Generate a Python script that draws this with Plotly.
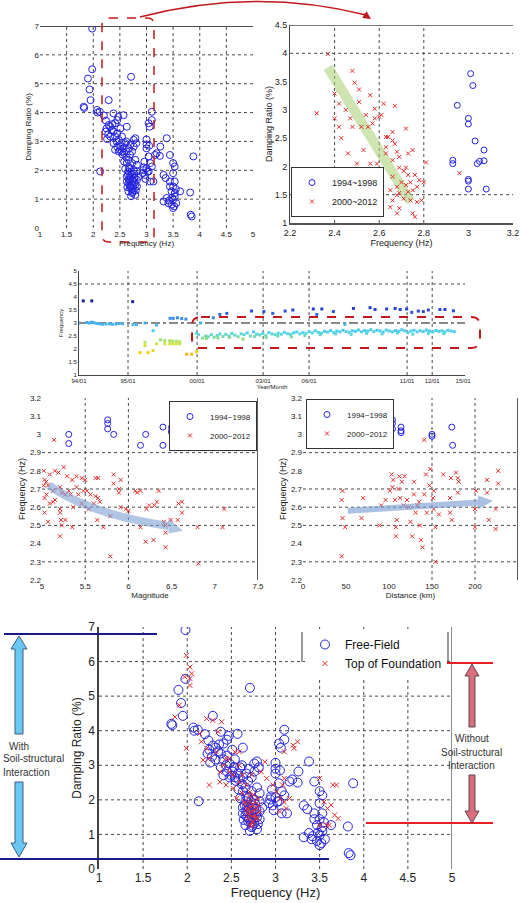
import plotly.graph_objects as go

W, H = 522, 903
FONT = "Liberation Sans, Arial, sans-serif"
BLUE = "rgb(35,35,225)"
RED = "rgb(225,45,45)"
DRED = "rgb(195,25,30)"

# ---------------- data ----------------
# Free-field damping ratio vs frequency (top-left panel and bottom panel)
ff_freq = [1.98, 1.98, 1.90, 1.93, 1.95, 1.82, 1.83, 2.71, 2.29, 2.07,
           2.12, 2.08, 2.13, 2.38, 2.57, 2.45, 2.41, 2.29, 2.32, 2.25,
           2.23, 2.51, 2.63, 2.38, 2.45, 2.41, 2.32, 2.26, 2.48, 2.54,
           2.60, 2.38, 2.45, 2.51, 2.57, 2.67, 2.41, 2.48, 2.54, 2.63,
           2.73, 2.76, 2.79, 2.76, 2.81, 2.69, 2.66, 2.63, 2.73, 2.79,
           2.82, 2.69, 2.76, 2.82, 2.66, 2.73, 2.63, 2.69, 2.76, 2.82,
           2.66, 2.73, 2.79, 2.69, 2.76, 2.73, 2.79, 2.66, 2.82, 2.63,
           2.85, 2.70, 2.74, 2.68, 2.77, 2.71, 2.64, 2.80, 2.72, 2.67,
           2.78, 2.60, 2.58, 2.55, 2.62, 2.94, 2.93, 2.97, 3.04, 3.00,
           3.10, 3.07, 3.04, 3.00, 3.00, 3.10, 3.04, 3.06, 3.10, 3.07,
           3.13, 3.16, 3.19, 3.26, 3.38, 3.32, 3.36, 3.32, 3.38, 3.41,
           3.44, 3.44, 3.50, 3.53, 3.50, 3.53, 3.50, 3.47, 3.53, 3.50,
           3.47, 3.50, 3.56, 3.53, 3.63, 3.82, 3.88, 3.85, 3.83, 3.44,
           2.53, 2.35, 2.62, 2.70, 2.58, 2.50, 2.44, 2.28, 2.36, 2.47,
           2.95, 2.98, 3.02, 2.96, 3.05, 3.00, 3.25, 3.55, 3.48, 3.52,
           3.42, 2.20, 2.24, 2.68, 2.72, 2.75, 2.65, 2.70, 2.78, 2.74,
           2.67]
ff_damp = [6.91, 5.50, 5.18, 4.80, 4.43, 4.20, 4.16, 5.24, 4.43, 4.09,
           4.03, 4.00, 1.96, 3.97, 3.91, 3.74, 3.63, 3.57, 3.51, 3.45,
           3.34, 3.45, 3.51, 3.34, 3.28, 3.17, 3.17, 3.08, 3.05, 3.17,
           2.94, 2.94, 2.82, 2.82, 2.76, 2.76, 2.71, 2.65, 2.65, 2.65,
           2.65, 3.05, 3.11, 2.82, 2.94, 2.54, 2.36, 2.25, 2.25, 2.36,
           2.19, 2.07, 2.01, 1.96, 1.96, 1.84, 1.78, 1.67, 1.73, 1.67,
           1.55, 1.50, 1.50, 1.38, 1.32, 1.21, 1.15, 1.27, 1.44, 1.61,
           1.78, 1.45, 1.62, 1.80, 1.88, 1.10, 1.42, 1.30, 1.95, 1.68,
           1.58, 2.05, 2.30, 2.55, 2.45, 2.01, 1.90, 1.84, 1.96, 2.07,
           2.13, 2.25, 2.48, 2.76, 3.07, 3.74, 3.63, 3.51, 4.03, 1.61,
           1.61, 2.53, 2.59, 2.82, 3.11, 1.84, 1.73, 0.92, 1.04, 0.86,
           1.61, 2.53, 2.25, 2.13, 1.90, 1.61, 1.44, 1.27, 1.21, 0.98,
           0.81, 0.69, 0.86, 1.09, 1.27, 1.23, 2.48, 0.40, 0.46, 1.44,
           2.95, 3.40, 3.00, 2.90, 2.60, 2.70, 3.00, 3.25, 3.60, 3.85,
           2.10, 1.70, 1.95, 2.30, 2.85, 2.90, 2.50, 1.35, 1.05, 0.75,
           0.95, 3.90, 3.72, 1.50, 1.35, 1.45, 1.85, 1.75, 1.75, 1.25,
           2.10]

# Top of foundation damping ratio vs frequency (bottom panel)
tf_freq = [1.99, 2.03, 2.05, 2.03, 2.03, 1.97, 1.91, 1.86, 1.99, 2.22,
           2.29, 2.39, 2.35, 2.14, 2.16, 2.22, 2.25, 2.18, 2.33, 2.37,
           2.41, 2.44, 2.48, 2.44, 2.52, 2.54, 2.59, 2.63, 2.67, 2.71,
           2.73, 2.59, 2.56, 2.65, 2.71, 2.75, 2.78, 2.67, 2.73, 2.77,
           2.69, 2.75, 2.78, 2.71, 2.80, 2.82, 2.84, 2.88, 2.90, 2.97,
           3.01, 3.05, 3.10, 3.12, 3.05, 3.08, 3.10, 3.10, 3.21, 3.25,
           3.20, 3.16, 3.50, 3.55, 3.59, 3.63, 3.65, 3.69, 3.67, 3.71,
           3.61, 3.50, 3.58, 2.52, 2.48, 2.25, 2.37, 2.59, 2.70, 2.74,
           2.76, 2.68, 2.72, 2.79, 2.66, 2.73, 2.77, 2.70, 2.75, 2.81,
           2.62, 2.69, 2.74]
tf_damp = [6.18, 5.84, 5.65, 5.51, 5.31, 5.56, 4.74, 4.40, 3.49, 4.35,
           4.30, 4.26, 3.97, 3.92, 3.68, 3.49, 3.20, 3.15, 3.39, 2.81,
           3.00, 3.20, 2.81, 2.43, 2.33, 3.39, 3.00, 2.72, 2.43, 2.23,
           2.72, 2.52, 2.04, 1.94, 1.94, 1.85, 1.75, 1.75, 1.66, 1.56,
           1.46, 1.37, 1.46, 1.27, 2.04, 1.66, 2.81, 3.10, 2.62, 2.43,
           2.23, 2.04, 1.94, 1.75, 1.66, 2.43, 2.62, 3.39, 3.49, 3.68,
           3.58, 2.04, 2.62, 1.94, 1.75, 1.85, 2.43, 2.43, 1.56, 1.46,
           1.27, 1.27, 1.27, 2.72, 3.20, 2.43, 2.52, 3.39, 1.58, 1.52,
           1.70, 1.62, 1.80, 1.48, 1.90, 1.35, 1.95, 2.10, 2.15, 1.85,
           2.20, 1.72, 1.25]

# Zoomed damping panel (top-right)
zb_freq_9498 = [3.01, 3.02, 2.95, 3.00, 3.00, 3.03, 3.07, 2.93, 2.93, 3.04,
                3.05, 3.07, 3.00, 3.00, 3.00, 3.08]
zb_damp_9498 = [3.64, 3.43, 3.08, 2.85, 2.75, 2.45, 2.29, 2.11, 2.05, 2.05,
                2.09, 2.10, 1.77, 1.74, 1.60, 1.60]
zb_freq_0012 = [2.32, 2.37, 2.40, 2.40, 2.42, 2.42, 2.45, 2.46, 2.47, 2.48,
                2.48, 2.49, 2.50, 2.51, 2.52, 2.53, 2.54, 2.55, 2.56, 2.57,
                2.58, 2.58, 2.59, 2.59, 2.60, 2.61, 2.62, 2.63, 2.63, 2.64,
                2.65, 2.65, 2.66, 2.66, 2.66, 2.66, 2.67, 2.68, 2.68, 2.68,
                2.68, 2.69, 2.69, 2.69, 2.70, 2.71, 2.71, 2.72, 2.67, 2.72,
                2.73, 2.73, 2.74, 2.74, 2.75, 2.75, 2.75, 2.76, 2.76, 2.77,
                2.77, 2.78, 2.79, 2.80, 2.81, 2.96, 2.72, 2.69, 2.73, 2.43,
                2.51, 2.56, 2.60, 2.63, 2.66]
zb_damp_0012 = [2.94, 3.99, 3.29, 2.85, 3.11, 2.70, 3.00, 2.23, 2.85, 2.70,
                3.69, 3.48, 2.05, 3.36, 2.70, 2.29, 2.91, 2.70, 2.05, 2.76,
                3.02, 2.85, 1.55, 2.05, 1.88, 2.91, 3.11, 2.23, 2.34, 2.52,
                1.28, 1.58, 1.82, 1.40, 2.46, 2.11, 2.40, 1.17, 1.64, 1.49,
                2.26, 2.17, 1.26, 1.53, 1.72, 1.92, 1.43, 1.67, 3.07, 2.67,
                1.55, 1.85, 1.40, 1.72, 1.17, 2.29, 1.58, 1.11, 1.85, 1.64,
                1.37, 1.76, 1.40, 1.72, 2.07, 1.88, 1.98, 1.98, 2.23, 2.50,
                3.14, 3.26, 2.88, 2.52, 2.61]

# Time history panel (position along the Year/Month axis, frequency)
ts_tick_pos = [0, 12.7, 30.6, 47.7, 59.6, 85.0, 91.5, 99.5]
ts_tick_text = ["94/01", "95/01", "00/01", "03/01", "06/01", "11/01", "12/01", "15/01"]
ts_pos_a = [0.0, 1.1, 2.0, 2.7, 3.3, 3.3, 3.9, 4.6, 5.3, 6.1,
            7.0, 7.9, 8.7, 9.6, 10.4, 11.3, 13.9, 14.0, 14.9, 17.1,
            20.1, 23.6, 24.4, 25.5, 26.6, 27.7]
ts_freq_a = [3.00, 3.85, 3.02, 3.00, 3.03, 3.85, 3.01, 2.98, 2.97, 2.95,
             2.96, 2.97, 2.95, 2.96, 2.98, 2.97, 3.82, 2.94, 2.94, 3.00,
             2.92, 3.18, 3.18, 3.20, 3.17, 3.15]
ts_pos_b = [15.8, 17.1, 17.1, 17.9, 19.2, 19.2, 20.1, 21.1, 22.2, 23.5,
            24.3, 25.2, 26.1, 22.2, 23.5, 24.3, 25.2, 26.1, 27.9, 29.2,
            30.5, 30.5, 31.0]
ts_freq_b = [1.86, 2.26, 2.13, 1.86, 1.94, 2.70, 2.20, 2.35, 2.32, 2.32,
             2.30, 2.30, 2.28, 2.20, 2.20, 2.20, 2.20, 2.20, 1.80, 1.80,
             1.90, 2.60, 2.55]
ts_pos_c = [31.5, 34.8, 36.5, 38.3, 44.7, 47.9, 50.2, 53.4, 55.4, 60.7,
            61.6, 62.9, 65.9, 68.9, 71.1, 75.4, 76.7, 79.7, 81.9, 83.2,
            84.9, 86.2, 87.9, 89.2, 90.5, 93.5, 94.8, 97.0]
ts_freq_c = [3.00, 3.20, 3.33, 3.37, 3.46, 3.44, 3.37, 3.46, 3.50, 3.54,
             3.33, 3.54, 3.44, 2.95, 3.56, 3.59, 3.52, 3.54, 3.56, 3.52,
             3.54, 3.41, 3.46, 3.44, 3.50, 3.52, 3.52, 3.47]
ts_pos_d = [32.0, 32.8, 33.5, 34.3, 35.0, 35.8, 36.5, 37.3, 38.0, 38.8,
            39.6, 40.4, 41.2, 42.0, 42.8, 43.6, 44.4, 45.2, 46.0, 46.8,
            47.6, 48.4, 49.2, 50.0, 50.8, 51.6, 52.4, 53.2, 54.0, 54.8,
            55.6, 56.4, 57.2, 58.0, 58.8, 59.6, 60.4, 61.2, 62.0, 62.8,
            63.6, 64.4, 65.2, 66.0, 66.8, 67.6, 68.4, 69.2, 70.0, 70.8,
            71.6, 72.4, 73.2, 74.0, 74.8, 75.6, 76.4, 77.2, 78.0, 78.8,
            79.6, 80.4, 81.2, 82.0, 82.8, 83.6, 84.4, 85.2, 86.0, 86.8,
            87.6, 88.4, 89.2, 90.0, 90.8, 91.6, 92.4, 93.2, 94.0, 94.8,
            95.6, 96.4, 97.2,
            33.0, 36.0, 39.0, 42.5, 45.5, 48.5, 51.5, 55.0, 58.5, 62.5,
            66.5, 70.5, 74.5, 78.5, 82.5, 86.5, 90.5, 94.5]
ts_freq_d = [2.42, 2.50, 2.47, 2.55, 2.45, 2.52, 2.58, 2.48, 2.56, 2.50,
             2.60, 2.53, 2.47, 2.58, 2.55, 2.62, 2.50, 2.66, 2.57, 2.54,
             2.60, 2.52, 2.63, 2.58, 2.55, 2.61, 2.57, 2.64, 2.59, 2.56,
             2.62, 2.66, 2.58, 2.63, 2.60, 2.67, 2.62, 2.70, 2.64, 2.61,
             2.68, 2.65, 2.71, 2.63, 2.69, 2.66, 2.72, 2.67, 2.64, 2.70,
             2.68, 2.73, 2.66, 2.71, 2.69, 2.74, 2.67, 2.72, 2.70, 2.65,
             2.73, 2.69, 2.66, 2.71, 2.68, 2.74, 2.70, 2.63, 2.69, 2.72,
             2.66, 2.70, 2.67, 2.73, 2.69, 2.65, 2.71, 2.68, 2.70, 2.66,
             2.72, 2.69, 2.67,
             2.40, 2.43, 2.45, 2.38, 2.48, 2.44, 2.50, 2.47, 2.52, 2.55,
             2.58, 2.56, 2.60, 2.58, 2.62, 2.57, 2.60, 2.59]

# Frequency vs magnitude
mag_9498 = [5.31, 5.31, 5.76, 5.76, 5.76, 5.83, 6.20, 6.14, 6.40, 6.40, 6.50, 6.50, 6.50]
magf_9498 = [3.00, 2.95, 3.08, 3.06, 3.03, 3.00, 3.00, 2.94, 3.04, 2.94, 3.04, 3.02, 3.01]
mag_0012 = [5.14, 5.02, 5.03, 5.05, 5.07, 5.02, 5.09, 5.13, 5.15, 5.19,
            5.21, 5.23, 5.25, 5.27, 5.29, 5.31, 5.33, 5.35, 5.09, 5.05,
            5.03, 5.13, 5.15, 5.21, 5.21, 5.22, 5.23, 5.21, 5.07, 5.03,
            5.35, 5.27, 5.40, 5.40, 5.42, 5.46, 5.46, 5.50, 5.52, 5.56,
            5.60, 5.62, 5.65, 5.62, 5.65, 5.67, 5.54, 5.64, 5.71, 5.79,
            5.83, 5.83, 5.89, 5.89, 5.91, 5.91, 5.97, 6.00, 5.79, 6.08,
            6.10, 6.14, 6.14, 6.21, 6.20, 6.29, 6.24, 6.30, 6.33, 6.35,
            6.41, 6.43, 6.43, 6.43, 6.49, 6.57, 6.58, 6.62, 6.62, 6.80,
            7.09, 7.11, 6.81, 5.48, 5.36]
magf_0012 = [2.97, 2.80, 2.75, 2.74, 2.72, 2.72, 2.78, 2.69, 2.80, 2.79,
             2.71, 2.68, 2.82, 2.67, 2.77, 2.69, 2.67, 2.75, 2.62, 2.67,
             2.65, 2.63, 2.64, 2.59, 2.57, 2.53, 2.50, 2.44, 2.52, 2.57,
             2.49, 2.53, 2.77, 2.71, 2.67, 2.76, 2.62, 2.75, 2.69, 2.67,
             2.62, 2.76, 2.76, 2.66, 2.65, 2.63, 2.59, 2.53, 2.49, 2.55,
             2.73, 2.78, 2.70, 2.68, 2.75, 2.60, 2.59, 2.58, 2.33, 2.69,
             2.68, 2.69, 2.49, 2.59, 2.41, 2.42, 2.61, 2.61, 2.63, 2.69,
             2.52, 2.50, 2.46, 2.38, 2.53, 2.53, 2.62, 2.63, 2.57, 2.49,
             2.49, 2.59, 2.29, 2.69, 2.60]

# Frequency vs distance
dist_9498 = [49, 50, 69, 104, 104, 104, 114, 114, 114, 150, 150, 173, 174]
distf_9498 = [3.00, 2.95, 3.00, 3.08, 3.06, 3.03, 3.04, 3.02, 3.01, 3.00, 2.99, 3.04, 2.94]
dist_0012 = [45, 45, 46, 49, 46, 68, 70, 89, 91, 96,
             101, 103, 104, 105, 107, 109, 108, 108, 111, 112,
             113, 115, 117, 118, 121, 123, 125, 127, 129, 129,
             131, 133, 135, 136, 137, 139, 141, 141, 143, 144,
             147, 148, 151, 152, 152, 154, 154, 158, 163, 171,
             171, 172, 173, 178, 180, 180, 181, 200, 200, 201,
             214, 214, 216, 224, 224, 227, 227]
distf_0012 = [2.33, 2.64, 2.54, 2.49, 2.69, 2.54, 2.65, 2.50, 2.61, 2.64,
              2.69, 2.78, 2.71, 2.75, 2.64, 2.53, 2.49, 2.44, 2.70, 2.77,
              2.65, 2.74, 2.61, 2.77, 2.64, 2.60, 2.52, 2.44, 2.74, 2.67,
              2.57, 2.61, 2.63, 2.50, 2.42, 2.38, 2.97, 2.67, 2.78, 2.57,
              2.72, 2.81, 2.65, 2.69, 2.59, 2.49, 2.30, 2.56, 2.78, 2.57,
              2.65, 2.76, 2.53, 2.79, 2.76, 2.68, 2.74, 2.49, 2.59, 2.69,
              2.75, 2.68, 2.53, 2.48, 2.59, 2.80, 2.73]


# ---------------- helpers ----------------
def X(p):
    return round(p / W, 5)


def Y(p):
    return round(1 - p / H, 5)


def circ(size, color=BLUE):
    return dict(symbol="circle-open", size=size, color=color, line=dict(width=1, color=color))


def cross(size, color=RED):
    return dict(symbol="x-thin-open", size=size, color=color, line=dict(width=1, color=color))


GRID = dict(color="#4a4a4a", width=1, dash="dot")


def vgrid(xr, yr, v, line=GRID):
    return dict(type="line", xref=xr, yref=yr + " domain", x0=v, x1=v, y0=0, y1=1,
                line=line, layer="below")


def hgrid(xr, yr, v, line=GRID):
    return dict(type="line", xref=xr + " domain", yref=yr, x0=0, x1=1, y0=v, y1=v,
                line=line, layer="below")


def ppath(points, close=True):
    s = "M " + " L ".join(f"{X(a)},{Y(b)}" for a, b in points)
    return s + (" Z" if close else "")


def rrect(x0, y0, x1, y1, r):
    return (f"M {X(x0 + r)},{Y(y0)} L {X(x1 - r)},{Y(y0)} Q {X(x1)},{Y(y0)} {X(x1)},{Y(y0 + r)} "
            f"L {X(x1)},{Y(y1 - r)} Q {X(x1)},{Y(y1)} {X(x1 - r)},{Y(y1)} "
            f"L {X(x0 + r)},{Y(y1)} Q {X(x0)},{Y(y1)} {X(x0)},{Y(y1 - r)} "
            f"L {X(x0)},{Y(y0 + r)} Q {X(x0)},{Y(y0)} {X(x0 + r)},{Y(y0)} Z")


def axis(dom_px, rng, size=8, horizontal=True, **kw):
    if horizontal:
        dom = [X(dom_px[0]), X(dom_px[1])]
    else:
        dom = [Y(dom_px[1]), Y(dom_px[0])]
    d = dict(domain=dom, range=rng, showgrid=False, zeroline=False, ticks="",
             tickfont=dict(size=size, color="#222", family=FONT), showline=False,
             automargin=False, fixedrange=True)
    d.update(kw)
    return d


def ttl(text, size=8, standoff=2):
    return dict(text=text, font=dict(size=size, color="#222", family=FONT), standoff=standoff)


TS_SCALE = [[0.0, "rgb(250,140,20)"], [0.06, "rgb(245,205,10)"], [0.22, "rgb(205,230,70)"],
            [0.30, "rgb(140,222,130)"], [0.40, "rgb(80,212,235)"], [0.57, "rgb(70,175,235)"],
            [0.78, "rgb(40,70,215)"], [1.0, "rgb(20,20,140)"]]

fig = go.Figure()

# Panel 1: damping vs frequency (all free-field)
fig.add_trace(go.Scatter(x=ff_freq, y=ff_damp, mode="markers", marker=circ(7),
                         xaxis="x", yaxis="y", showlegend=False))
# Panel 2: zoom
fig.add_trace(go.Scatter(x=zb_freq_9498, y=zb_damp_9498, mode="markers", marker=circ(6),
                         name="1994~1998", xaxis="x2", yaxis="y2", legend="legend"))
fig.add_trace(go.Scatter(x=zb_freq_0012, y=zb_damp_0012, mode="markers", marker=cross(4),
                         name="2000~2012", xaxis="x2", yaxis="y2", legend="legend"))
# Panel 3: time history
for px_, fy_ in [(ts_pos_a, ts_freq_a), (ts_pos_b, ts_freq_b), (ts_pos_c, ts_freq_c), (ts_pos_d, ts_freq_d)]:
    fig.add_trace(go.Scatter(x=px_, y=fy_, mode="markers",
                             marker=dict(symbol="square", size=3, color=fy_, colorscale=TS_SCALE,
                                         cmin=1.7, cmax=4.0, line=dict(width=0)),
                             xaxis="x3", yaxis="y3", showlegend=False))
# Panel 4: magnitude
fig.add_trace(go.Scatter(x=mag_9498, y=magf_9498, mode="markers", marker=circ(6),
                         name="1994~1998", xaxis="x4", yaxis="y4", legend="legend2"))
fig.add_trace(go.Scatter(x=mag_0012, y=magf_0012, mode="markers", marker=cross(4),
                         name="2000~2012", xaxis="x4", yaxis="y4", legend="legend2"))
# Panel 5: distance
fig.add_trace(go.Scatter(x=dist_9498, y=distf_9498, mode="markers", marker=circ(6),
                         name="1994~1998", xaxis="x5", yaxis="y5", legend="legend3"))
fig.add_trace(go.Scatter(x=dist_0012, y=distf_0012, mode="markers", marker=cross(4),
                         name="2000~2012", xaxis="x5", yaxis="y5", legend="legend3"))
# Panel 6: free-field vs top of foundation
fig.add_trace(go.Scatter(x=ff_freq, y=ff_damp, mode="markers", marker=circ(9),
                         name="Free-Field", xaxis="x6", yaxis="y6", legend="legend4"))
fig.add_trace(go.Scatter(x=tf_freq, y=tf_damp, mode="markers", marker=cross(5),
                         name="Top of Foundation", xaxis="x6", yaxis="y6", legend="legend4"))

shapes = []
# --- panel 1
for v in [1.5, 2, 2.5, 3, 3.5, 4, 4.5]:
    shapes.append(vgrid("x", "y", v))
for v in [1, 2, 3, 4, 5, 6]:
    shapes.append(hgrid("x", "y", v))
shapes.append(hgrid("x", "y", 7, dict(color="#111", width=1.5)))
shapes.append(dict(type="path", xref="paper", yref="paper", path=rrect(102, 18, 154, 242, 7),
                   line=dict(color=DRED, width=1.5, dash="dash")))
shapes.append(dict(type="path", xref="paper", yref="paper",
                   path=f"M {X(140)},{Y(17)} Q {X(255)},{Y(-13)} {X(366)},{Y(15)}",
                   line=dict(color=DRED, width=1.6)))
# --- panel 2
for v in [2.4, 2.6, 2.8]:
    shapes.append(vgrid("x2", "y2", v))
for v in [4.0, 1.5]:
    shapes.append(hgrid("x2", "y2", v))
shapes.append(hgrid("x2", "y2", 4.5, dict(color="#777", width=2)))
shapes.append(dict(type="line", xref="x2", yref="y2", x0=2.37, y0=3.75, x1=2.74, y1=1.38,
                   line=dict(color="rgba(165,208,115,0.55)", width=10), layer="below"))
# --- panel 3
for v in ts_tick_pos[1:7]:
    shapes.append(vgrid("x3", "y3", v))
shapes.append(hgrid("x3", "y3", 4.5))
shapes.append(hgrid("x3", "y3", 3.0, dict(color="#111", width=1, dash="dashdot")))
shapes.append(dict(type="path", xref="paper", yref="paper", path=rrect(192, 317, 480, 348, 9),
                   line=dict(color=DRED, width=2, dash="dash")))
# --- panel 4
for v in [5.5, 6.0]:
    shapes.append(vgrid("x4", "y4", v))
for v in [2.9, 2.7, 2.6, 2.5, 2.3]:
    shapes.append(hgrid("x4", "y4", v))
shapes.append(vgrid("x4", "y4", 7.5, dict(color="#222", width=1.5)))
shapes.append(dict(type="path", xref="x4", yref="y4", path="M 5.08,2.72 Q 5.56,2.56 6.465,2.497",
                   line=dict(color="rgba(125,160,210,0.6)", width=8)))
shapes.append(dict(type="path", xref="x4", yref="y4", path="M 6.465,2.537 L 6.63,2.47 L 6.465,2.455 Z",
                   fillcolor="rgba(125,160,210,0.6)", line=dict(width=0)))
# --- panel 5
for v in [150, 200]:
    shapes.append(vgrid("x5", "y5", v))
for v in [2.9, 2.7, 2.6, 2.5, 2.3]:
    shapes.append(hgrid("x5", "y5", v))
shapes.append(vgrid("x5", "y5", 250, dict(color="#222", width=1.5)))
shapes.append(dict(type="path", xref="x5", yref="y5", path="M 52,2.58 L 203.5,2.626",
                   line=dict(color="rgba(125,160,210,0.65)", width=6)))
shapes.append(dict(type="path", xref="x5", yref="y5", path="M 203.5,2.664 L 221,2.636 L 203.5,2.588 Z",
                   fillcolor="rgba(125,160,210,0.65)", line=dict(width=0)))
# --- panel 6
for v in [1.5, 2, 2.5, 3, 3.5, 4, 4.5]:
    shapes.append(vgrid("x6", "y6", v))
for v in [1, 2, 3, 4, 5, 6]:
    shapes.append(hgrid("x6", "y6", v))
shapes.append(vgrid("x6", "y6", 5, dict(color="#666", width=1.5)))
# legend side lines
shapes.append(dict(type="line", xref="paper", yref="paper", x0=X(302), x1=X(302), y0=Y(632), y1=Y(662),
                   line=dict(color="#333", width=1)))
shapes.append(dict(type="line", xref="paper", yref="paper", x0=X(448), x1=X(448), y0=Y(632), y1=Y(662),
                   line=dict(color="#333", width=1)))
# side brackets
NAVY = "rgb(25,25,140)"
shapes.append(dict(type="line", xref="paper", yref="paper", x0=X(4), x1=X(157), y0=Y(634), y1=Y(634),
                   line=dict(color=NAVY, width=2)))
shapes.append(dict(type="line", xref="paper", yref="paper", x0=X(0), x1=X(329), y0=Y(859), y1=Y(859),
                   line=dict(color=NAVY, width=2)))
shapes.append(dict(type="line", xref="paper", yref="paper", x0=X(348), x1=X(493), y0=Y(663), y1=Y(663),
                   line=dict(color="rgb(230,30,40)", width=2)))
shapes.append(dict(type="line", xref="paper", yref="paper", x0=X(366), x1=X(493), y0=Y(823), y1=Y(823),
                   line=dict(color="rgb(230,30,40)", width=2)))
LB = dict(fillcolor="rgb(105,200,240)", line=dict(color="rgb(60,90,130)", width=1))
shapes.append(dict(type="path", xref="paper", yref="paper",
                   path=ppath([(19, 636), (27, 649), (23, 649), (23, 734), (15, 734), (15, 649), (11, 649)]), **LB))
shapes.append(dict(type="path", xref="paper", yref="paper",
                   path=ppath([(15, 782), (23, 782), (23, 843), (27, 843), (19, 857), (11, 843), (15, 843)]), **LB))
PK = dict(fillcolor="rgb(218,110,125)", line=dict(color="rgb(90,70,80)", width=1))
shapes.append(dict(type="path", xref="paper", yref="paper",
                   path=ppath([(472, 664), (479, 676), (475, 676), (475, 727), (469, 727), (469, 676), (465, 676)]), **PK))
shapes.append(dict(type="path", xref="paper", yref="paper",
                   path=ppath([(469, 775), (475, 775), (475, 811), (479, 811), (472, 823), (465, 811), (469, 811)]), **PK))

annotations = [
    dict(x=X(371), y=Y(19), xref="paper", yref="paper", ax=-9, ay=-6, text="", showarrow=True,
         arrowhead=2, arrowsize=1, arrowwidth=1.6, arrowcolor=DRED),
]


def txt(x, y, s, anchor="center", size=10):
    return dict(x=X(x), y=Y(y), xref="paper", yref="paper", text=s, showarrow=False,
                xanchor=anchor, yanchor="middle", font=dict(size=size, color="#333", family=FONT))


annotations += [
    txt(19, 746, "With"), txt(1, 759, "Soil-structural", "left"), txt(1, 772, "Interaction", "left"),
    txt(472, 739, "Without"), txt(472, 752, "Soil-structural"), txt(472, 765, "Interaction"),
]

LEGFONT = dict(family=FONT, color="#222")
fig.update_layout(
    width=W, height=H, autosize=False, template="none",
    margin=dict(l=0, r=0, t=0, b=0),
    paper_bgcolor="white", plot_bgcolor="white",
    font=dict(family=FONT, color="#222"),
    xaxis=axis((40, 253), [1, 5], tick0=1, dtick=0.5, anchor="y", title=ttl("Frequency (Hz)", 8, 1)),
    yaxis=axis((26, 228), [0, 7], horizontal=False, tick0=0, dtick=1, anchor="x",
               title=ttl("Damping Ratio (%)", 8, 1)),
    xaxis2=axis((290, 513), [2.2, 3.2], size=9, tick0=2.2, dtick=0.2, anchor="y2",
                showline=True, linecolor="#555", linewidth=2, title=ttl("Frequency (Hz)", 9, 1)),
    yaxis2=axis((25, 223), [1, 4.5], size=9, horizontal=False, tick0=1, dtick=0.5, anchor="x2",
                showline=True, linecolor="#444", linewidth=1, title=ttl("Damping Ratio (%)", 9, 0)),
    xaxis3=axis((79, 465), [0, 100], size=6, tickvals=ts_tick_pos, ticktext=ts_tick_text, anchor="y3",
                showline=True, linecolor="#444", linewidth=1, title=ttl("Year/Month", 6, 0)),
    yaxis3=axis((271, 375), [1, 5], size=6, horizontal=False, tick0=1, dtick=0.5, anchor="x3",
                showline=True, linecolor="#444", linewidth=1, title=ttl("Frequency", 6, 4)),
    xaxis4=axis((42, 258), [5, 7.5], tick0=5, dtick=0.5, anchor="y4", title=ttl("Magnitude", 8, 1)),
    yaxis4=axis((398, 580), [2.2, 3.2], horizontal=False, tick0=2.2, dtick=0.1, anchor="x4",
                title=ttl("Frequency (Hz)", 9, 2)),
    xaxis5=axis((303, 518), [0, 250], tick0=0, dtick=50, anchor="y5", title=ttl("Distance (km)", 8, 1)),
    yaxis5=axis((398, 580), [2.2, 3.2], horizontal=False, tick0=2.2, dtick=0.1, anchor="x5",
                title=ttl("Frequency (Hz)", 9, 2)),
    xaxis6=axis((99, 452), [1, 5], size=12, tick0=1, dtick=0.5, anchor="y6", title=ttl("Frequency (Hz)", 13, 0)),
    yaxis6=axis((627, 869), [0, 7], size=12, horizontal=False, tick0=0, dtick=1, anchor="x6",
                showline=True, linecolor="#444", linewidth=1.5, title=ttl("Damping Ratio (%)", 12, 4)),
    legend=dict(x=X(291), y=Y(217), xanchor="left", yanchor="bottom", bgcolor="white",
                bordercolor="#333", borderwidth=1, font=dict(size=9, **LEGFONT), tracegroupgap=0),
    legend2=dict(x=X(257), y=Y(401), xanchor="right", yanchor="top", bgcolor="white",
                 bordercolor="#333", borderwidth=1, font=dict(size=8, **LEGFONT), tracegroupgap=0),
    legend3=dict(x=X(306), y=Y(399), xanchor="left", yanchor="top", bgcolor="white",
                 bordercolor="#333", borderwidth=1, font=dict(size=8, **LEGFONT), tracegroupgap=0),
    legend4=dict(x=X(305), y=Y(630), xanchor="left", yanchor="top", bgcolor="white",
                 borderwidth=0, font=dict(size=12, family=FONT, color="#111"), tracegroupgap=0),
    shapes=shapes,
    annotations=annotations,
    hovermode=False,
)

fig.write_html("out.html")
